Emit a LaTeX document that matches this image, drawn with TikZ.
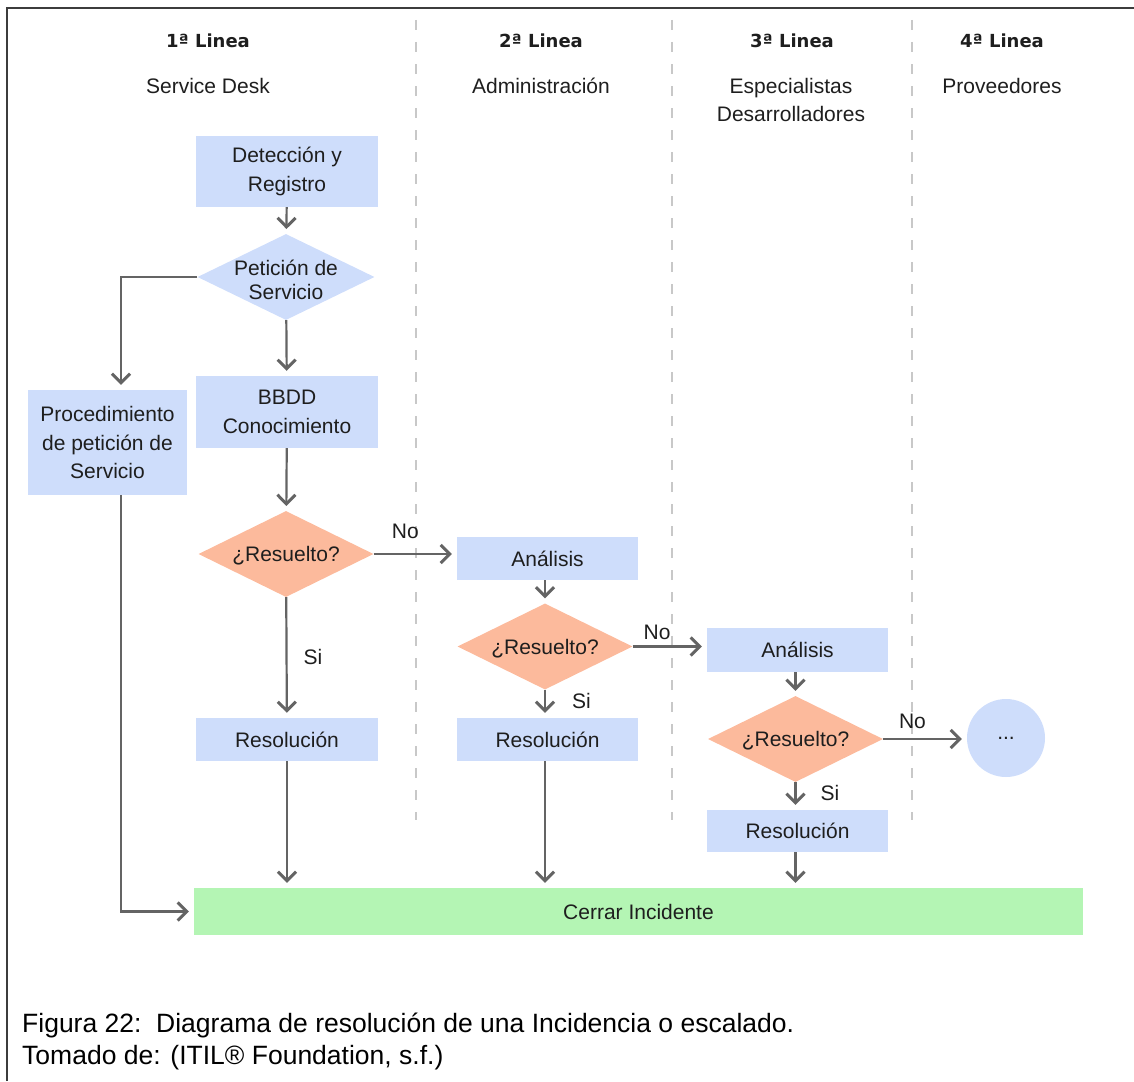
\documentclass[tikz,border=0pt]{standalone}
\usepackage{fontspec}
\setmainfont{Liberation Sans}
\newfontfamily\headfont{DejaVu Sans}
\usetikzlibrary{arrows.meta,shapes.geometric}

\definecolor{boxblue}{RGB}{206,221,251}
\definecolor{decorange}{RGB}{252,186,156}
\definecolor{closegreen}{RGB}{180,245,180}
\definecolor{arrgray}{RGB}{100,100,100}
\definecolor{lanegray}{RGB}{200,200,200}
\definecolor{framegray}{RGB}{60,60,60}
\definecolor{txt}{RGB}{30,30,30}

\tikzset{
  boxfont/.style={font=\fontsize{21}{28.5}\selectfont},
  box/.style={boxfont, fill=boxblue, text=txt, inner sep=0, align=center,
              minimum width=182, minimum height=43},
  % diamonds carry their text as a centred label so the text does not widen the shape
  dec/.style={diamond, fill=decorange, inner sep=0,
              minimum width=175, minimum height=86,
              label={[font=\fontsize{21}{24}\selectfont, text=txt, align=center, yshift=-2pt]center:#1}},
  ask/.style={diamond, fill=boxblue, inner sep=0,
              minimum width=177, minimum height=86,
              label={[font=\fontsize{21}{24}\selectfont, text=txt, align=center, yshift=-3pt]center:#1}},
  lanehead/.style={font=\headfont\bfseries\fontsize{18}{22}\selectfont, text=txt, anchor=base},
  lanename/.style={boxfont, text=txt, anchor=base, align=center},
  lbl/.style={boxfont, text=txt, inner sep=0},
  arr/.style={draw=arrgray, line width=2.2, shorten >=5,
              -{Straight Barb[length=9,width=18,line width=3]}},
  lane/.style={draw=lanegray, line width=1.6, dash pattern=on 10 off 12},
  captionline/.style={font=\fontsize{26.5}{32}\selectfont, text=black, anchor=base west, inner sep=0}
}

\begin{document}
\begin{tikzpicture}[x=1pt,y=-1pt]
  \useasboundingbox (0,0) rectangle (1134,1081);

  % frame (top and left edges only)
  \draw[framegray, line width=1.6] (7,1081) -- (7,8) -- (1134,8);

  % lane dividers
  \foreach \lx in {416,672,912}
    \draw[lane] (\lx,20) -- (\lx,820);

  % lane headings
  \node[lanehead] (h1) at (208,48) {1ª Linea};
  \node[lanehead] (h2) at (541,48) {2ª Linea};
  \node[lanehead] (h3) at (792,48) {3ª Linea};
  \node[lanehead] (h4) at (1002,48) {4ª Linea};
  \node[lanename] (n1) at (208,93) {Service Desk};
  \node[lanename] (n2) at (541,93) {Administración};
  \node[lanename] (n3) at (791,93) {Especialistas};
  \node[lanename] (n3b) at (791,121) {Desarrolladores};
  \node[lanename] (n4) at (1002,93) {Proveedores};

  % first line
  \node[box, minimum height=71] (det) at (287,171.5) {Detección y\\Registro};
  \node[ask={Petición de\\Servicio}] (pet) at (286,277) {};
  \node[box, minimum height=72] (bbdd) at (287,412) {BBDD\\Conocimiento};
  \node[box, minimum width=159, minimum height=105] (proc) at (107.5,442.5)
       {Procedimiento\\de petición de\\Servicio};
  \node[dec={¿Resuelto?}] (res1) at (286,554) {};
  \node[box] (sol1) at (287,739.5) {Resolución};

  % second line
  \node[box, minimum width=181] (an2) at (547.5,558.5) {Análisis};
  \node[dec={¿Resuelto?}] (res2) at (545,646.5) {};
  \node[box, minimum width=181] (sol2) at (547.5,739.5) {Resolución};

  % third line
  \node[box, minimum width=181, minimum height=44] (an3) at (797.5,650) {Análisis};
  \node[dec={¿Resuelto?}] (res3) at (795.5,739) {};
  \node[box, minimum width=181, minimum height=42] (sol3) at (797.5,831) {Resolución};

  % fourth line
  \node[boxfont, circle, fill=boxblue, text=txt, minimum size=78, inner sep=0] (more) at (1006,738) {...};

  % closing
  \node[boxfont, fill=closegreen, text=txt, minimum width=889, minimum height=47, inner sep=0]
       (close) at (638.5,911.5) {Cerrar Incidente};

  % helper column for the service request branch
  \coordinate (lx) at (121,0);

  % connectors
  \draw[arr] (det) -- (pet);
  \draw[arr] (pet) -- (bbdd);
  \draw[arr] (pet.west) -| (lx |- proc.north);
  \draw[arr] (bbdd) -- (res1);
  \draw[arr] (res1.east) -- node[lbl, pos=0.38, above=14] {No} (res1.east -| an2.west);
  \draw[arr] (res1) -- node[lbl, pos=0.5, right=16] {Si} (sol1);
  \draw[arr] (an2.south -| res2) -- (res2);
  \draw[arr] (res2.east) -- node[lbl, pos=0.33, above=6] {No} (res2.east -| an3.west);
  \draw[arr] (res2) -- node[lbl, pos=0.4, right=26] {Si} (res2 |- sol2.north);
  \draw[arr] (an3.south -| res3) -- (res3);
  \draw[arr] (res3.east) -- node[lbl, pos=0.35, above=9] {No} (res3.east -| more.west);
  \draw[arr] (res3) -- node[lbl, pos=0.4, right=24] {Si} (res3 |- sol3.north);
  \draw[arr] (sol1) -- (sol1 |- close.north);
  \draw[arr] (sol2.south -| res2) -- (res2 |- close.north);
  \draw[arr] (sol3.south -| res3) -- (res3 |- close.north);
  \draw[arr] (lx |- proc.south) |- (close.west);

  % caption
  \node[captionline] (cap1) at (22,1032) {Figura 22:\ \ Diagrama de resolución de una Incidencia o escalado.};
  \node[captionline] (cap2) at (22,1064) {Tomado de: (ITIL® Foundation, s.f.)};
\end{tikzpicture}
\end{document}
